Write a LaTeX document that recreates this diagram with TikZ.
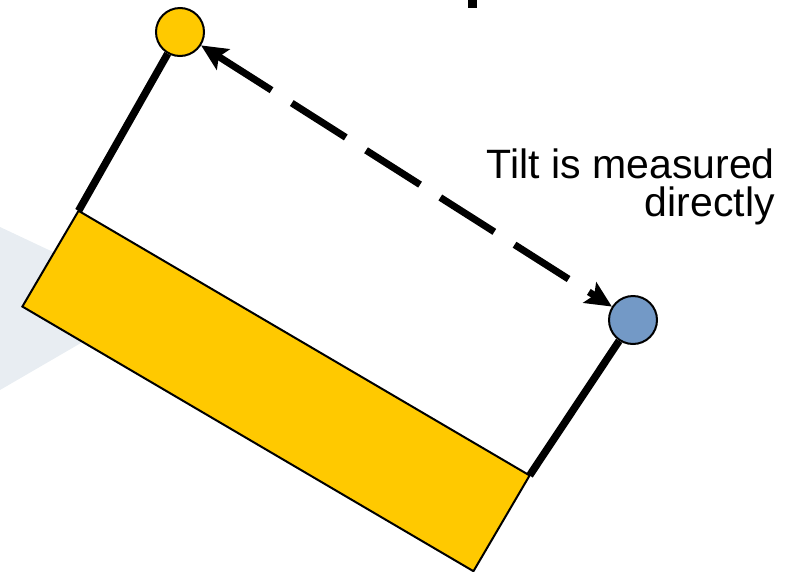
\documentclass[tikz,border=0pt]{standalone}
\usepackage{fontspec}
\setmainfont{Liberation Sans}
\usetikzlibrary{arrows.meta, positioning}

\definecolor{panelyellow}{HTML}{FFC900}
\definecolor{sensorblue}{HTML}{7399C6}
\definecolor{backgray}{HTML}{E8EDF2}

\begin{document}
\begin{tikzpicture}[
      x=1pt, y=-1pt,
      panel/.style={rectangle, draw, line width=2pt, fill=panelyellow, minimum width=523pt, minimum height=111pt, inner sep=0pt, outer sep=0pt, rotate=-30.4},
      refball/.style={circle, draw, line width=2pt, fill=panelyellow, minimum size=48pt, inner sep=0pt},
      sensball/.style={refball, fill=sensorblue},
      arm/.style={line width=7.5pt},
      arrow/.style={line width=7pt, dash pattern=on 64pt off 24pt, {Stealth[length=26pt,width=24pt,inset=5pt]}-{Stealth[length=26pt,width=24pt,inset=5pt]}},
      note/.style={align=right, inner sep=0pt, font=\fontsize{41}{38}\selectfont}
    ]
    \useasboundingbox (0,0) rectangle (788,571);
    % background
    \fill [backgray] (0,227) -- (155,300) -- (0,390) -- cycle;
    \fill (468,0) rectangle (477,8);

    \node [panel] (panel) at (276,391) {};
    \node [refball] (ref) at (180,32) {};
    \node [sensball] (sens) at (633,320) {};
    \node [note, anchor=north east] (label) at (775,149) {Tilt is measured\\directly};

    \draw [arm] (panel.north west) -- (ref);
    \draw [arm] (panel.north east) -- (sens);
    \draw [arrow] (ref) -- (sens);
  \end{tikzpicture}
\end{document}
